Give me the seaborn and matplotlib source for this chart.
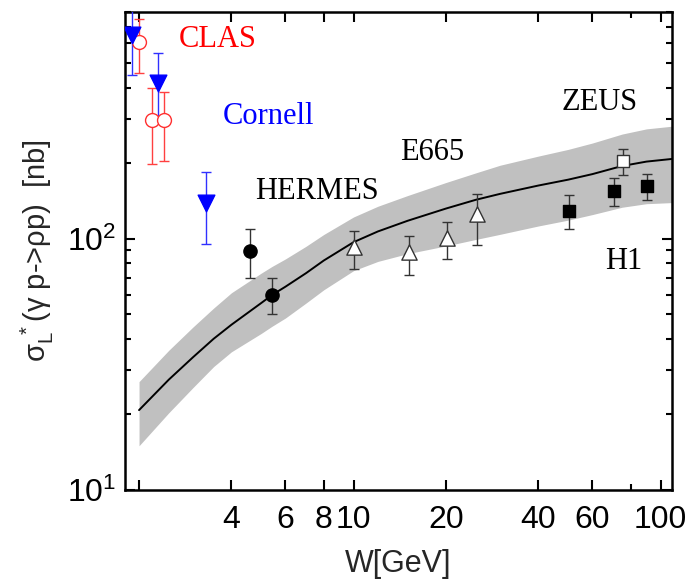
import matplotlib
matplotlib.use("Agg")
import matplotlib.pyplot as plt
import matplotlib.ticker as mticker
import seaborn as sns
import pandas as pd
import numpy as np

# ---------------- data ----------------
curve_w  = [2.0, 2.5, 3.0, 3.5, 4.0, 5.0, 5.43, 6.0, 7.0, 8.0, 10.0, 12.0, 15.0, 20.0,
            25.0, 30.0, 40.0, 50.0, 60.0, 75.0, 90.0, 109.0]
curve_s  = [20.8, 27.5, 33.8, 40.0, 45.5, 55.5, 59.8, 64.5, 73.0, 82.0, 97.0, 107.0, 118.0, 132.0,
            143.0, 151.0, 163.0, 172.0, 181.0, 195.0, 203.0, 208.0]
band_hi  = [27.0, 36.0, 44.6, 53.0, 61.0, 73.0, 77.7, 83.2, 93.4, 104.1, 122.2, 134.8, 148.7, 167.6,
            183.0, 196.3, 213.5, 227.0, 240.7, 261.3, 274.0, 280.8]
band_lo  = [15.0, 20.3, 25.6, 31.0, 35.5, 42.0, 44.9, 48.4, 55.5, 62.7, 74.7, 81.3, 87.3, 93.7,
            99.4, 104.2, 112.5, 118.7, 124.9, 133.6, 138.0, 139.4]

clas_w   = [2.0, 2.2, 2.41]
clas_s   = [609, 298, 296]
clas_lo  = [458, 199, 205]
clas_hi  = [752, 400, 383]

corn_w   = [1.9, 2.31, 3.3]
corn_s   = [650, 418, 139]
corn_lo  = [450, 290, 95.5]
corn_hi  = [950, 551, 185]

herm_w   = [4.61, 5.43]
herm_s   = [89.8, 59.8]
herm_lo  = [70.1, 50.1]
herm_hi  = [109.6, 69.7]

e665_w   = [10.0, 15.1, 20.1, 25.2]
e665_s   = [92.7, 89.0, 101.0, 125.8]
e665_lo  = [75.9, 71.9, 83.0, 94.9]
e665_hi  = [107.0, 103.0, 116.6, 150.6]

h1_w     = [50.3, 70.5, 90.6]
h1_s     = [129.3, 155.3, 162.6]
h1_lo    = [109.3, 135.3, 143.0]
h1_hi    = [148.8, 174.6, 181.2]

zeus_w   = [75.5]
zeus_s   = [205.0]
zeus_lo  = [179.9]
zeus_hi  = [228.4]

x_ticks  = [2, 4, 6, 8, 10, 20, 40, 60, 100]
x_labels = ["", "4", "6", "8", "10", "20", "40", "60", "100"]

# ---------------- style ----------------
sns.set_theme(style="ticks")
plt.rcParams["font.family"] = ["Liberation Sans", "DejaVu Sans"]
plt.rcParams["mathtext.default"] = "regular"

fig = plt.figure(figsize=(6.9, 5.81), dpi=100)
ax = fig.add_axes([125/690, 1-490/581, (672-125)/690, (490-12)/581])
ax.set_xscale("log")
ax.set_yscale("log")
ax.set_xlim(1.80, 109)
ax.set_ylim(10, 800)

# band + curve
ax.fill_between(curve_w, band_lo, band_hi, color="#c0c0c0", lw=0, zorder=1)
curve_df = pd.DataFrame({"W": curve_w, "sigma": curve_s})
sns.lineplot(data=curve_df, x="W", y="sigma", ax=ax, color="black", lw=1.4, zorder=3)

def errs(s, lo, hi):
    s = np.asarray(s); return [s - np.asarray(lo), np.asarray(hi) - s]

def series(w, s, lo, hi, ecolor, marker, ms, face, edge, elw=1.0):
    ax.errorbar(w, s, yerr=errs(s, lo, hi), fmt="none", ecolor=ecolor,
                elinewidth=elw, capsize=3.5, capthick=elw, zorder=4)
    df = pd.DataFrame({"W": w, "sigma": s})
    sns.scatterplot(data=df, x="W", y="sigma", ax=ax, marker=marker, s=ms**2,
                    color=face, edgecolor=edge, linewidth=1.0, zorder=5, legend=False)

series(clas_w, clas_s, clas_lo, clas_hi, "#ff4040", "o", 10, "white", "#ff3030")
series(corn_w, corn_s, corn_lo, corn_hi, "#3030ff", "v", 12, "#0000ff", "#0000ff")
series(herm_w, herm_s, herm_lo, herm_hi, "#333333", "o", 9.5, "black", "black")
series(e665_w, e665_s, e665_lo, e665_hi, "#333333", "^", 11, "white", "#333333")
series(h1_w, h1_s, h1_lo, h1_hi, "#333333", "s", 9, "black", "black")
series(zeus_w, zeus_s, zeus_lo, zeus_hi, "#333333", "s", 9, "white", "#333333")

# experiment labels
serif = ["Liberation Serif", "DejaVu Serif"]
kw = dict(ha="center", va="center", fontsize=22, family=serif)
ax.text(3.62, 621, "CLAS", color="#ff0000", **kw)
ax.text(5.28, 306, "Cornell", color="#0000ff", **kw)
ax.text(7.57, 154, "HERMES", color="black", **kw)
ax.text(18.0, 220, "E665", color="black", **kw)
ax.text(63.2, 348, "ZEUS", color="black", **kw)
ax.text(75.8, 81, "H1", color="black", **kw)

# axes / ticks
ax.xaxis.set_major_locator(mticker.FixedLocator(x_ticks))
ax.xaxis.set_major_formatter(mticker.FixedFormatter(x_labels))
ax.xaxis.set_minor_locator(mticker.FixedLocator([80]))
ax.xaxis.set_minor_formatter(mticker.NullFormatter())
ax.tick_params(which="both", direction="in", top=True, right=True, width=1.5, colors="black")
ax.tick_params(which="major", length=7, labelsize=23)
ax.tick_params(axis="x", which="major", pad=11)
ax.tick_params(axis="y", which="major", pad=6)
ax.tick_params(which="minor", length=4)
for sp in ax.spines.values():
    sp.set_linewidth(1.8)
    sp.set_color("black")

ax.set_xlabel("W[GeV]", fontsize=22, labelpad=10)
ax.set_ylabel(r"$\sigma_{L}^{\;*}$($\gamma$ p->$\rho$p)  [nb]", fontsize=21, labelpad=8)

fig.savefig("out.png", dpi=100, facecolor="white")
